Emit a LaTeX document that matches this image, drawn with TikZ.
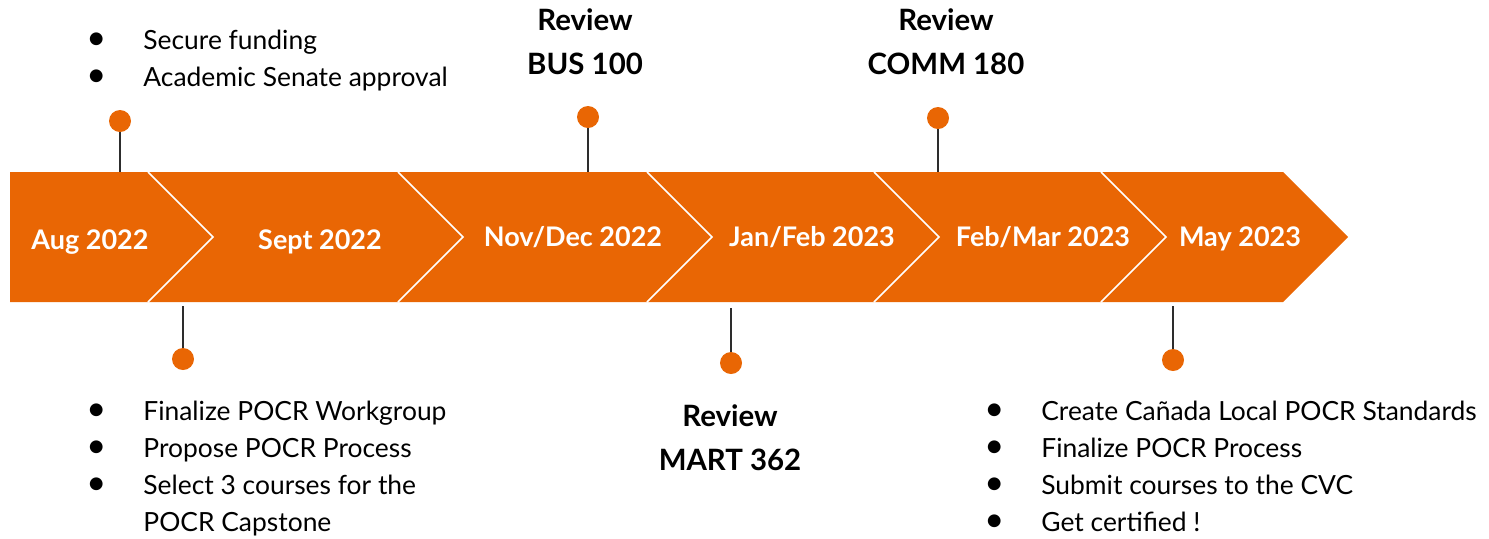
\documentclass[tikz,border=0pt]{standalone}
\usepackage{fontspec}
\setmainfont{Lato}
\definecolor{pocrorange}{RGB}{233,102,4}
\definecolor{stemgray}{RGB}{45,45,45}
\newcommand{\itm}[1]{\makebox[28.5pt][l]{\scalebox{1.3}{\textbullet}}#1}

\begin{document}
\begin{tikzpicture}[x=0.5pt,y=-0.5pt,
		dot/.style={circle,fill=pocrorange,inner sep=0pt,minimum size=11pt},
		stem/.style={draw=stemgray,line width=0.8pt},
		datelbl/.style={text=white,font=\fontsize{13.5}{16}\selectfont\bfseries,anchor=base},
		review/.style={font=\fontsize{14.7}{22}\selectfont\bfseries,align=center,anchor=north,inner sep=0pt},
		items/.style={font=\fontsize{13.2}{18.5}\selectfont,align=left,anchor=north west,inner sep=0pt}]
		\useasboundingbox (0,0) rectangle (1489,538);
		% timeline band
		\fill[pocrorange] (10,172) -- (1283,172) -- (1348,237) -- (1283,302) -- (10,302) -- cycle;
		\foreach \x in {148,398,647,874,1101}
		\draw[white,line width=0.8pt] (\x,172) -- (\x+65,237) -- (\x,302);
		% dates
		\node[datelbl] (aug) at (90,249) {Aug 2022};
		\node[datelbl] (sept) at (320,249) {Sept 2022};
		\node[datelbl] (novdec) at (573,246) {Nov/Dec 2022};
		\node[datelbl] (janfeb) at (812,246) {Jan/Feb 2023};
		\node[datelbl] (febmar) at (1043,246) {Feb/Mar 2023};
		\node[datelbl] (may) at (1240,246) {May 2023};
		% band attach points
		\coordinate (t1) at (120,172);
		\coordinate (t2) at (588,172);
		\coordinate (t3) at (938,172);
		\coordinate (b1) at (183,302);
		\coordinate (b2) at (731,302);
		\coordinate (b3) at (1173,302);
		% markers
		\node[dot] (m1) at (120,121) {};
		\node[dot] (m2) at (588,117) {};
		\node[dot] (m3) at (938,118) {};
		\node[dot] (m4) at (183,359) {};
		\node[dot] (m5) at (731,363) {};
		\node[dot] (m6) at (1173,360) {};
		\draw[stem] (m1) -- (t1);
		\draw[stem] (m2) -- (t2);
		\draw[stem] (m3) -- (t3);
		\draw[stem] ([yshift=-2pt]b1) -- (m4);
		\draw[stem] ([yshift=-3pt]b2) -- (m5);
		\draw[stem] ([yshift=-2pt]b3) -- (m6);
		% texts
		\node[items] (augtxt) at (86,30) {\itm{Secure funding}\\ \itm{Academic Senate approval}};
		\node[review] (bus) at (585,8) {Review\\ BUS 100};
		\node[review] (comm) at (946,8) {Review\\ COMM 180};
		\node[items] (septtxt) at (86,401) {\itm{Finalize POCR Workgroup}\\ \itm{Propose POCR Process}\\ \itm{Select 3 courses for the}\\ \hspace*{28.5pt}POCR Capstone};
		\node[review] (mart) at (730,404) {Review\\ MART 362};
		\node[items] (maytxt) at (984,401) {\itm{Create Cañada Local POCR Standards}\\ \itm{Finalize POCR Process}\\ \itm{Submit courses to the CVC}\\ \itm{Get certified !}};
\end{tikzpicture}
\end{document}
